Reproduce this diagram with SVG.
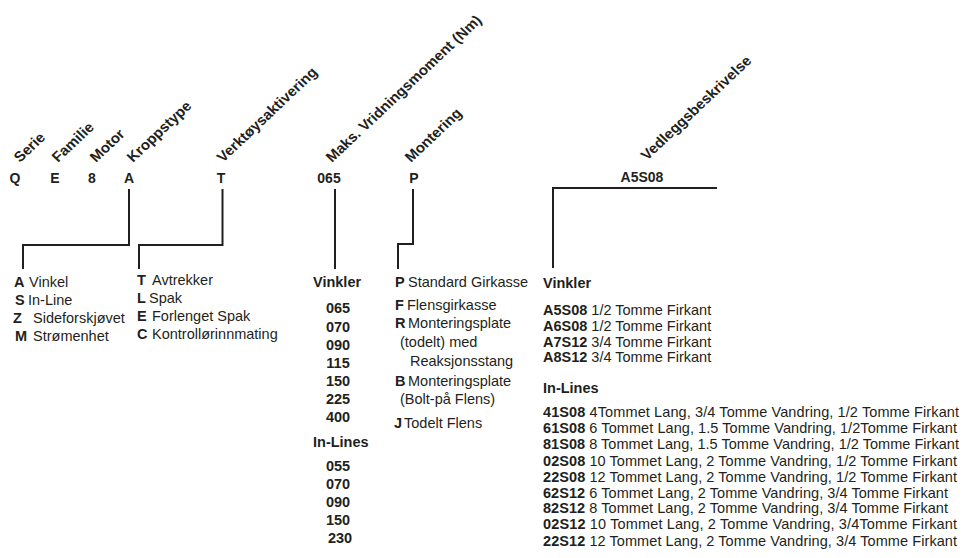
<svg xmlns="http://www.w3.org/2000/svg" width="962" height="558" viewBox="0 0 962 558">
<style>
text{font-family:"Liberation Sans",Arial,sans-serif;font-size:14.5px;fill:#231f20}
.b{font-weight:bold}
.h{font-size:14.3px;font-weight:bold}
.c{font-size:14px;font-weight:bold;text-anchor:middle}
.m{text-anchor:middle}
.ln{fill:none;stroke:#231f20;stroke-width:2}
</style>
<rect width="962" height="558" fill="#fff"/>
<g id="headers">
<text class="h" transform="translate(20,163) scale(1.06,1) rotate(-45)">Serie</text>
<text class="h" transform="translate(58,163) scale(1.06,1) rotate(-45)">Familie</text>
<text class="h" transform="translate(96,163) scale(1.06,1) rotate(-45)">Motor</text>
<text class="h" transform="translate(133,163) scale(1.06,1) rotate(-45)">Kroppstype</text>
<text class="h" transform="translate(223,163) scale(1.06,1) rotate(-45)">Verktøysaktivering</text>
<text class="h" transform="translate(332,163) scale(1.06,1) rotate(-45)">Maks. Vridningsmoment (Nm)</text>
<text class="h" transform="translate(411,163) scale(1.06,1) rotate(-45)">Montering</text>
<text class="h" transform="translate(647,161) scale(1.06,1) rotate(-45)">Vedleggsbeskrivelse</text>
</g>
<g id="codes">
<text class="c" x="15" y="183">Q</text>
<text class="c" x="55" y="183">E</text>
<text class="c" x="92" y="183">8</text>
<text class="c" x="129" y="183">A</text>
<text class="c" x="221" y="183">T</text>
<text class="c" x="329" y="183">065</text>
<text class="c" x="414" y="183">P</text>
<text class="c" x="642" y="182">A5S08</text>
</g>
<g id="connectors">
<polyline class="ln" points="129,189 129,245 23,245 23,269"/>
<polyline class="ln" points="222.5,189 222.5,245 139,245 139,269"/>
<polyline class="ln" points="335,189 335,269"/>
<polyline class="ln" points="413,189 413,244 398,244 398,269"/>
<polyline class="ln" points="717,188 553,188 553,268"/>
</g>
<g id="kroppstype">
<text y="287"><tspan class="b" x="14">A</tspan><tspan x="29">Vinkel</tspan></text>
<text y="305"><tspan class="b" x="15">S</tspan><tspan x="28">In-Line</tspan></text>
<text y="323"><tspan class="b" x="13">Z</tspan><tspan x="33">Sideforskjøvet</tspan></text>
<text y="341"><tspan class="b" x="15">M</tspan><tspan x="33">Strømenhet</tspan></text>
</g>
<g id="verktoy">
<text y="285"><tspan class="b" x="137">T</tspan><tspan x="152">Avtrekker</tspan></text>
<text y="303"><tspan class="b" x="137">L</tspan><tspan x="149">Spak</tspan></text>
<text y="321"><tspan class="b" x="137">E</tspan><tspan x="152">Forlenget Spak</tspan></text>
<text y="339"><tspan class="b" x="137">C</tspan><tspan x="152">Kontrollørinnmating</tspan></text>
</g>
<g id="moment">
<text class="b" x="313" y="287">Vinkler</text>
<text class="b m" x="338" y="313">065</text>
<text class="b m" x="338" y="332">070</text>
<text class="b m" x="338" y="350">090</text>
<text class="b m" x="338" y="368">115</text>
<text class="b m" x="338" y="386">150</text>
<text class="b m" x="338" y="404">225</text>
<text class="b m" x="338" y="422">400</text>
<text class="b" x="313" y="447">In-Lines</text>
<text class="b m" x="338" y="471">055</text>
<text class="b m" x="338" y="489">070</text>
<text class="b m" x="338" y="507">090</text>
<text class="b m" x="338" y="525">150</text>
<text class="b m" x="340" y="543">230</text>
</g>
<g id="montering">
<text y="287"><tspan class="b" x="395">P</tspan><tspan x="408">Standard Girkasse</tspan></text>
<text y="310"><tspan class="b" x="395">F</tspan><tspan x="407">Flensgirkasse</tspan></text>
<text y="328"><tspan class="b" x="395">R</tspan><tspan x="408">Monteringsplate</tspan></text>
<text x="400" y="347">(todelt) med</text>
<text x="410" y="366">Reaksjonsstang</text>
<text y="386"><tspan class="b" x="395">B</tspan><tspan x="408">Monteringsplate</tspan></text>
<text x="400" y="404">(Bolt-på Flens)</text>
<text y="428"><tspan class="b" x="394">J</tspan><tspan x="404">Todelt Flens</tspan></text>
</g>
<g id="vedlegg">
<text class="b" x="543" y="288">Vinkler</text>
<text x="543" y="315"><tspan class="b">A5S08</tspan> 1/2 Tomme Firkant</text>
<text x="543" y="331"><tspan class="b">A6S08</tspan> 1/2 Tomme Firkant</text>
<text x="543" y="347"><tspan class="b">A7S12</tspan> 3/4 Tomme Firkant</text>
<text x="543" y="362"><tspan class="b">A8S12</tspan> 3/4 Tomme Firkant</text>
<text class="b" x="543" y="393">In-Lines</text>
<text x="543" y="417" textLength="416"><tspan class="b">41S08</tspan> 4Tommet Lang, 3/4 Tomme Vandring, 1/2 Tomme Firkant</text>
<text x="543" y="433" textLength="414"><tspan class="b">61S08</tspan> 6 Tommet Lang, 1.5 Tomme Vandring, 1/2Tomme Firkant</text>
<text x="543" y="449" textLength="416"><tspan class="b">81S08</tspan> 8 Tommet Lang, 1.5 Tomme Vandring, 1/2 Tomme Firkant</text>
<text x="543" y="466" textLength="414"><tspan class="b">02S08</tspan> 10 Tommet Lang, 2 Tomme Vandring, 1/2 Tomme Firkant</text>
<text x="543" y="482" textLength="414"><tspan class="b">22S08</tspan> 12 Tommet Lang, 2 Tomme Vandring, 1/2 Tomme Firkant</text>
<text x="543" y="498" textLength="405"><tspan class="b">62S12</tspan> 6 Tommet Lang, 2 Tomme Vandring, 3/4 Tomme Firkant</text>
<text x="543" y="513" textLength="405"><tspan class="b">82S12</tspan> 8 Tommet Lang, 2 Tomme Vandring, 3/4 Tomme Firkant</text>
<text x="543" y="529" textLength="414"><tspan class="b">02S12</tspan> 10 Tommet Lang, 2 Tomme Vandring, 3/4Tomme Firkant</text>
<text x="543" y="546" textLength="414"><tspan class="b">22S12</tspan> 12 Tommet Lang, 2 Tomme Vandring, 3/4 Tomme Firkant</text>
</g>
</svg>
